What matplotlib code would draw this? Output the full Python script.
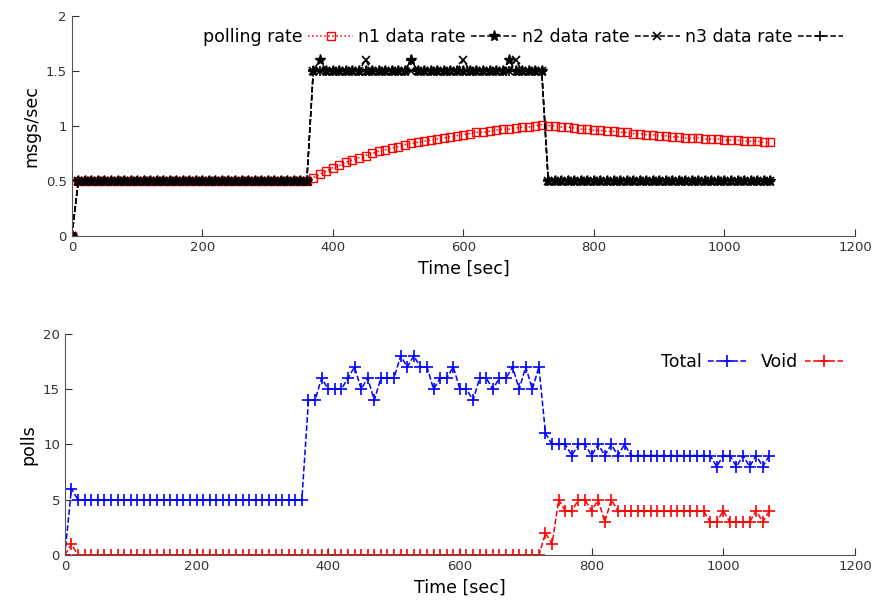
import numpy as np
import matplotlib
matplotlib.use("Agg")
import matplotlib.pyplot as plt

### data (one sample every 10 s)
time_sec = np.arange(0, 1080, 10)

polling_rate = ([0.0] + [0.5] * 36 +
                [0.53, 0.56, 0.59, 0.62, 0.64, 0.67, 0.69, 0.71, 0.73, 0.75,
                 0.77, 0.78, 0.80, 0.81, 0.83, 0.84, 0.85, 0.86, 0.87, 0.88,
                 0.89, 0.90, 0.91, 0.92, 0.93, 0.94, 0.94, 0.95, 0.96, 0.97,
                 0.97, 0.98, 0.99, 0.99, 1.00, 1.01] +
                [1.00, 1.00, 0.99, 0.99, 0.98, 0.97, 0.97, 0.96, 0.96, 0.95,
                 0.95, 0.94, 0.94, 0.93, 0.93, 0.92, 0.92, 0.91, 0.91, 0.90,
                 0.90, 0.89, 0.89, 0.89, 0.88, 0.88, 0.88, 0.87, 0.87, 0.87,
                 0.86, 0.86, 0.86, 0.85, 0.85])

n1_rate = ([0.0] + [0.5] * 36 +
           [1.5, 1.6, 1.5, 1.5, 1.5, 1.5, 1.5, 1.5, 1.5, 1.5,
            1.5, 1.5, 1.5, 1.5, 1.5, 1.6, 1.5, 1.5, 1.5, 1.5,
            1.5, 1.5, 1.5, 1.5, 1.5, 1.5, 1.5, 1.5, 1.5, 1.5,
            1.6, 1.5, 1.5, 1.5, 1.5, 1.5] + [0.5] * 35)
n2_rate = ([0.0] + [0.5] * 36 +
           [1.5, 1.5, 1.5, 1.5, 1.5, 1.5, 1.5, 1.5, 1.6, 1.5,
            1.5, 1.5, 1.5, 1.5, 1.5, 1.5, 1.5, 1.5, 1.5, 1.5,
            1.5, 1.5, 1.5, 1.6, 1.5, 1.5, 1.5, 1.5, 1.5, 1.5,
            1.5, 1.6, 1.5, 1.5, 1.5, 1.5] + [0.5] * 35)
n3_rate = ([0.0] + [0.5] * 36 +
           [1.5, 1.5, 1.5, 1.5, 1.5, 1.5, 1.5, 1.5, 1.5, 1.5,
            1.5, 1.5, 1.5, 1.5, 1.5, 1.6, 1.5, 1.5, 1.5, 1.5,
            1.5, 1.5, 1.5, 1.5, 1.5, 1.5, 1.5, 1.5, 1.5, 1.5,
            1.5, 1.5, 1.5, 1.5, 1.5, 1.5] + [0.5] * 35)

total_polls = ([0, 6] + [5] * 35 +
               [14, 14, 16, 15, 15, 15, 16, 17, 15, 16,
                14, 16, 16, 16, 18, 17, 18, 17, 17, 15,
                16, 16, 17, 15, 15, 14, 16, 16, 15, 16,
                16, 17, 15, 17, 15, 17] +
               [11, 10, 10, 10, 9, 10, 10, 9, 10, 9, 10, 9, 10] + [9] * 13 +
               [8, 9, 9, 8, 9, 8, 9, 8, 9])
void_polls = ([0, 1] + [0] * 35 + [0] * 36 +
              [2, 1, 5, 4, 4, 5, 5, 4, 5, 3, 5] + [4] * 14 +
              [3, 3, 4, 3, 3, 3, 3, 4, 3, 4])

x_ticks = [0, 200, 400, 600, 800, 1000, 1200]
top_yticks = [0, 0.5, 1, 1.5, 2]
top_ylabels = ["0", "0.5", "1", "1.5", "2"]
bottom_yticks = [0, 5, 10, 15, 20]
###---------------------------------------------------------------------

plt.rcParams["font.family"] = "DejaVu Sans"
plt.rcParams["lines.linewidth"] = 1.1

fig = plt.figure(figsize=(8.76, 6.08), dpi=100)
ax_top = fig.add_axes([0.082, 0.612, 0.894, 0.362])
ax_bot = fig.add_axes([0.074, 0.087, 0.902, 0.364])


def gnuplot_axes(ax):
    for side in ("top", "right"):
        ax.spines[side].set_visible(False)
    ax.spines["left"].set_color("#555555")
    ax.spines["bottom"].set_color("#555555")
    ax.tick_params(direction="in", length=5, labelsize=9.5, colors="#333333")
    ax.set_xlim(0, 1200)
    ax.set_xticks(x_ticks)
    ax.set_xlabel("Time [sec]", fontsize=12.5)


### top: rates
ax_top.plot(time_sec, polling_rate, color="red", linestyle=":", marker="s",
            markerfacecolor="none", markersize=6, markeredgewidth=1.0,
            label="polling rate")
ax_top.plot(time_sec, n1_rate, color="black", linestyle="--", marker="*",
            markersize=8, label="n1 data rate")
ax_top.plot(time_sec, n2_rate, color="black", linestyle="--", marker="x",
            markersize=6, markeredgewidth=1.2, label="n2 data rate")
ax_top.plot(time_sec, n3_rate, color="black", linestyle="--", marker="+",
            markersize=7, markeredgewidth=1.2, label="n3 data rate")
gnuplot_axes(ax_top)
ax_top.set_ylim(0, 2)
ax_top.set_yticks(top_yticks)
ax_top.set_yticklabels(top_ylabels)
ax_top.set_ylabel("msgs/sec", fontsize=12.5)
ax_top.legend(loc="upper right", ncol=4, frameon=False, markerfirst=False,
              fontsize=12.5, handlelength=2.6, handletextpad=0.3,
              columnspacing=0.3, bbox_to_anchor=(1.0, 1.0), borderaxespad=0.3)

### bottom: polls
ax_bot.plot(time_sec, total_polls, color="blue", linestyle="--", marker="+",
            markersize=8, markeredgewidth=1.2, label="Total")
ax_bot.plot(time_sec, void_polls, color="red", linestyle="--", marker="+",
            markersize=8, markeredgewidth=1.2, label="Void")
gnuplot_axes(ax_bot)
ax_bot.set_ylim(0, 20)
ax_bot.set_yticks(bottom_yticks)
ax_bot.set_ylabel("polls", fontsize=12.5)
ax_bot.legend(loc="upper right", ncol=2, frameon=False, markerfirst=False,
              fontsize=12.5, handlelength=2.2, handletextpad=0.4,
              columnspacing=0.8, bbox_to_anchor=(1.0, 0.97), borderaxespad=0.3)

plt.savefig("out.png", dpi=100)
